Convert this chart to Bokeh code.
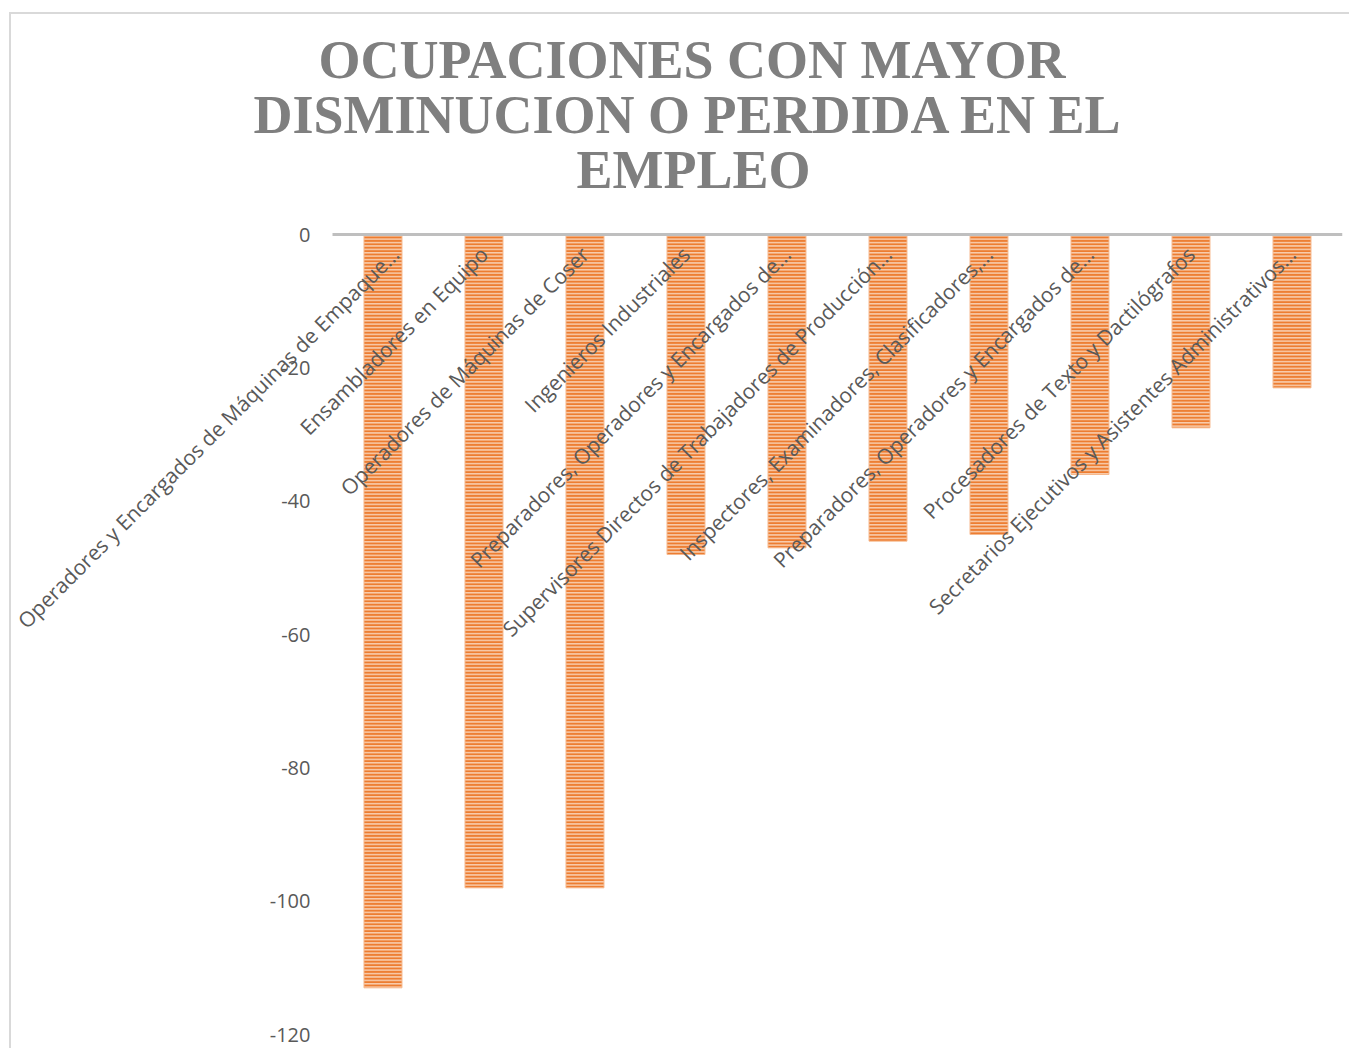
import math
from bokeh.plotting import figure
from bokeh.models import (ColumnDataSource, Range1d, FixedTicker, Title)
from bokeh.embed import file_html
from bokeh.resources import INLINE

# ---- data ----
title_lines = ["OCUPACIONES CON MAYOR", "DISMINUCION O PERDIDA EN EL", "EMPLEO"]
categories = [
    "Operadores y Encargados de Máquinas de Empaque…",
    "Ensambladores en Equipo",
    "Operadores de Máquinas de Coser",
    "Ingenieros Industriales",
    "Preparadores, Operadores y Encargados de…",
    "Supervisores Directos de Trabajadores de Producción…",
    "Inspectores, Examinadores, Clasificadores,…",
    "Preparadores, Operadores y Encargados de…",
    "Procesadores de Texto y Dactilógrafos",
    "Secretarios Ejecutivos y Asistentes Administrativos…",
]
values = [-113, -98, -98, -48, -47, -46, -45, -36, -29, -23]
y_ticks = [-120, -100, -80, -60, -40, -20, 0]
y_tick_labels = ["-120", "-100", "-80", "-60", "-40", "-20", "0"]

TEXT = "#595959"
ORANGE = "#ED7D31"

# category slots sit at 1..N; extra room on the left holds the y labels and the long
# rotated category labels
positions = list(range(1, len(categories) + 1))
slot_lo, slot_hi = 0.5, len(categories) + 0.5

p = figure(
    x_range=Range1d(slot_lo - 3.178, slot_hi),
    y_range=Range1d(-121.8, 1.8),
    width=1340, height=1036,
    output_backend="svg", toolbar_location=None,
    min_border_left=0, min_border_right=9, min_border_top=208, min_border_bottom=4,
)
p.margin = (12, 0, 0, 9)
p.styles = {"border-top": "2px solid #d9d9d9", "border-left": "2px solid #d9d9d9"}
p.outline_line_color = None
p.background_fill_color = "white"
p.border_fill_color = "white"
p.xgrid.visible = False
p.ygrid.visible = False

# y axis at the left edge of the category area
yax = p.yaxis[0]
yax.fixed_location = slot_lo
yax.ticker = FixedTicker(ticks=y_ticks)
yax.major_label_overrides = {t: s for t, s in zip(y_ticks, y_tick_labels)}
yax.axis_line_color = None
yax.major_tick_line_color = None
yax.minor_tick_line_color = None
yax.major_tick_in = 0
yax.major_tick_out = 0
yax.major_label_standoff = 22
yax.major_label_text_font = "Open Sans"
yax.major_label_text_font_size = "20px"
yax.major_label_text_color = TEXT

# category axis sitting on the zero line
xax = p.xaxis[0]
xax.fixed_location = 0
xax.bounds = (slot_lo, slot_hi)
xax.ticker = FixedTicker(ticks=positions)
xax.major_label_overrides = {pos: c for pos, c in zip(positions, categories)}
xax.axis_line_color = "#BFBFBF"
xax.axis_line_width = 3
xax.major_tick_line_color = None
xax.minor_tick_line_color = None
xax.major_tick_in = 0
xax.major_tick_out = 0
xax.major_label_standoff = 16
xax.major_label_orientation = math.pi / 4
xax.major_label_text_font = "Open Sans"
xax.major_label_text_font_size = "21px"
xax.major_label_text_color = TEXT

src = ColumnDataSource(dict(pos=positions, val=values))

p.vbar(x="pos", top="val", bottom=0, width=0.376, source=src,
       fill_color="#F8CDAE", line_color="#F6B98E", line_width=1,
       hatch_pattern="horizontal_line", hatch_color=ORANGE,
       hatch_scale=3.4, hatch_weight=2.4, level="underlay")

# spacer between the plot and the title block
p.add_layout(Title(text=" ", text_font_size="2px", standoff=22), "above")
# title lines, stacked above the plot (last added is outermost)
title_offsets = [307, 242, 565]
for line, off in reversed(list(zip(title_lines, title_offsets))):
    p.add_layout(Title(text=line, align="left", offset=off, standoff=-7,
                       text_font="Liberation Serif", text_font_style="bold",
                       text_font_size="54px", text_color="#7F7F7F"), "above")

open("out.html", "w").write(file_html(p, INLINE))
